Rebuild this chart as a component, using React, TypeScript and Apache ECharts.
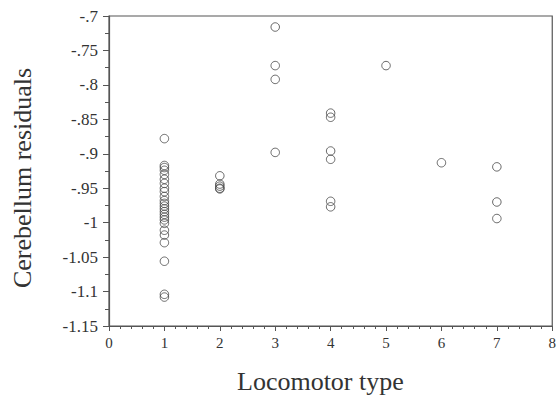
import React, { useEffect, useRef } from "react";
import * as echarts from "echarts";

// Locomotor type groups and their cerebellum residuals
const locomotorTypes = [1, 2, 3, 4, 5, 6, 7];
const residualsType1 = [-0.878, -0.917, -0.920, -0.924, -0.930, -0.937, -0.943, -0.950, -0.955, -0.962, -0.968, -0.972, -0.976, -0.980, -0.984, -0.988, -0.992, -0.996, -1.001, -1.011, -1.018, -1.029, -1.056, -1.104, -1.108];
const residualsType2 = [-0.932, -0.944, -0.947, -0.950, -0.951];
const residualsType3 = [-0.716, -0.772, -0.792, -0.898];
const residualsType4 = [-0.841, -0.847, -0.896, -0.908, -0.969, -0.977];
const residualsType5 = [-0.772];
const residualsType6 = [-0.913];
const residualsType7 = [-0.919, -0.970, -0.994];
const residualGroups = [residualsType1, residualsType2, residualsType3, residualsType4, residualsType5, residualsType6, residualsType7];

const yTickValues = [-0.7, -0.75, -0.8, -0.85, -0.9, -0.95, -1, -1.05, -1.1, -1.15];
const yTickLabels = ["-.7", "-.75", "-.8", "-.85", "-.9", "-.95", "-1", "-1.05", "-1.1", "-1.15"];
const xTickLabels = ["0", "1", "2", "3", "4", "5", "6", "7", "8"];

const xTitle = "Locomotor type";
const yTitle = "Cerebellum residuals";

export default function App() {
  const ref = useRef<HTMLDivElement>(null);
  useEffect(() => {
    if (!ref.current) return;
    const chart = echarts.init(ref.current, null, { renderer: "svg" });
    const points: number[][] = [];
    locomotorTypes.forEach((t, i) => {
      residualGroups[i].forEach((v) => points.push([t, v]));
    });
    const font = "Liberation Serif";
    const axisColor = "#555";
    chart.setOption({
      animation: false,
      backgroundColor: "#fff",
      textStyle: { fontFamily: font },
      grid: {
        left: 109,
        top: 16,
        right: 4,
        bottom: 78,
        show: true,
        borderColor: axisColor,
        borderWidth: 1.2,
        backgroundColor: "transparent",
      },
      xAxis: {
        type: "value",
        min: 0,
        max: 8,
        interval: 1,
        axisLine: { show: true, onZero: false, lineStyle: { color: axisColor, width: 1.2 } },
        axisTick: { show: true, inside: false, length: 5, lineStyle: { color: axisColor } },
        minorTick: { show: true, splitNumber: 5, length: 3, lineStyle: { color: axisColor } },
        splitLine: { show: false },
        axisLabel: {
          margin: 9,
          fontFamily: font,
          fontSize: 15,
          color: "#333",
          formatter: (v: number) => xTickLabels[Math.round(v)] ?? "",
        },
      },
      yAxis: {
        type: "value",
        min: -1.15,
        max: -0.7,
        interval: 0.05,
        axisLine: { show: true, onZero: false, lineStyle: { color: axisColor, width: 1.2 } },
        axisTick: { show: true, inside: false, length: 6, lineStyle: { color: axisColor } },
        minorTick: { show: true, splitNumber: 2, length: 4, lineStyle: { color: axisColor } },
        splitLine: { show: false },
        axisLabel: {
          margin: 11,
          fontFamily: font,
          fontSize: 17,
          color: "#333",
          formatter: (v: number) => {
            const idx = yTickValues.findIndex((t) => Math.abs(t - v) < 1e-6);
            return idx >= 0 ? yTickLabels[idx] : "";
          },
        },
      },
      graphic: [
        {
          type: "text",
          left: 237,
          top: 368,
          style: { text: xTitle, fontFamily: font, fontSize: 26, fill: "#333" },
        },
        {
          type: "text",
          x: 22,
          y: 178,
          rotation: Math.PI / 2,
          style: {
            text: yTitle,
            fontFamily: font,
            fontSize: 26,
            fill: "#333",
            align: "center",
            verticalAlign: "middle",
          },
        },
      ],
      series: [
        {
          type: "scatter",
          data: points,
          symbol: "circle",
          symbolSize: 8.5,
          itemStyle: { color: "transparent", borderColor: "#444", borderWidth: 1 },
        },
      ],
    });
    return () => chart.dispose();
  }, []);
  return (
    <div
      ref={ref}
      style={{ position: "fixed", left: 0, top: 0, width: 559, height: 404 }}
    />
  );
}
